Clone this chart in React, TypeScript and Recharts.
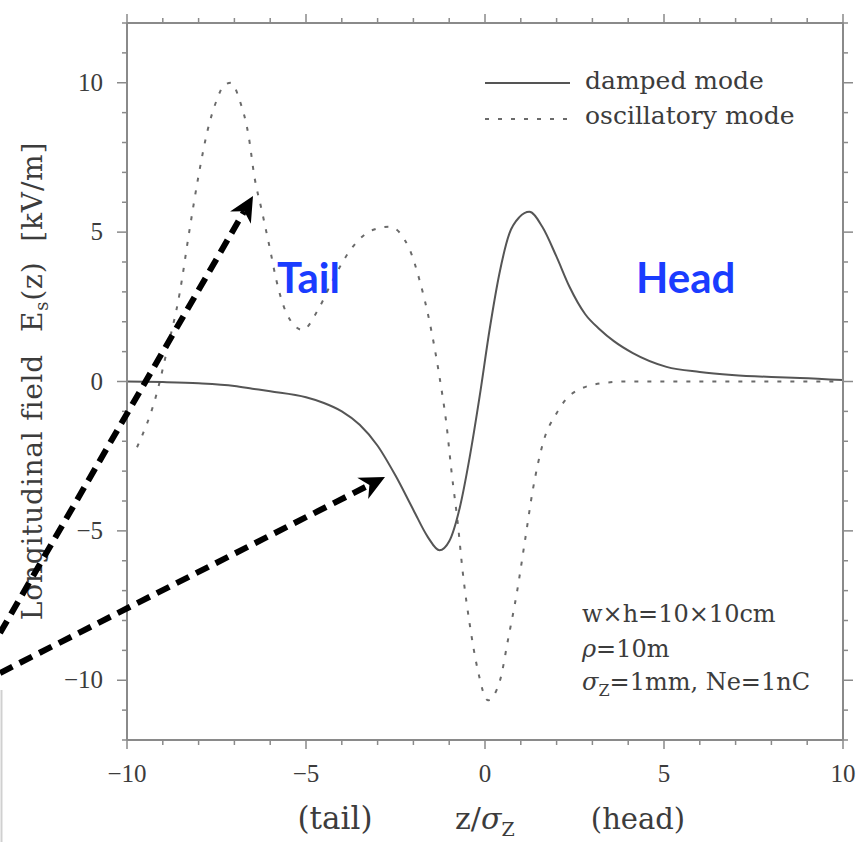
import React from 'react';
import { LineChart, Line, XAxis, YAxis } from 'recharts';

// damped mode (solid)
const dampedZ = [-10, -9, -8, -7, -6.5, -6, -5, -4.5, -4, -3.5, -3, -2.5, -2, -1.6, -1.27, -1.0, -0.7, -0.43, -0.15, 0.13, 0.4, 0.68, 0.96, 1.24, 1.6, 2.0, 2.36, 2.8, 3.2, 3.6, 4.13, 5.07, 6, 6.9, 8, 8.8, 10];
const dampedE = [0, -0.02, -0.06, -0.15, -0.24, -0.33, -0.53, -0.72, -1.0, -1.45, -2.15, -3.15, -4.3, -5.2, -5.65, -5.35, -4.2, -2.55, -0.5, 1.75, 3.6, 4.95, 5.5, 5.68, 5.18, 4.17, 3.17, 2.25, 1.75, 1.35, 0.95, 0.49, 0.32, 0.22, 0.15, 0.12, 0.05];

// oscillatory mode (dashed)
const oscZ = [-9.72, -9.17, -8.9, -8.53, -8.25, -8.0, -7.75, -7.5, -7.3, -7.1, -6.85, -6.6, -6.44, -6.24, -6.0, -5.83, -5.55, -5.1, -4.62, -4.25, -3.7, -3.14, -2.67, -2.1, -1.83, -1.54, -1.27, -1.08, -0.93, -0.76, -0.62, -0.43, -0.2, 0.08, 0.42, 0.64, 0.9, 1.12, 1.34, 1.62, 2.0, 2.45, 3.3, 4, 6, 8, 10];
const oscE = [-2.2, -0.4, 0.95, 2.95, 5.1, 6.9, 8.4, 9.4, 9.9, 10.0, 9.4, 8.2, 6.85, 5.75, 4.4, 3.4, 2.3, 1.73, 2.5, 3.4, 4.5, 5.07, 5.18, 4.4, 3.4, 1.95, 0.15, -1.4, -3.07, -4.75, -6.4, -8.1, -9.67, -10.67, -10.0, -8.66, -7.0, -5.3, -3.6, -2.06, -1.06, -0.39, -0.05, 0, 0, 0, 0];

const xTicks = [-10, -9, -8, -7, -6, -5, -4, -3, -2, -1, 0, 1, 2, 3, 4, 5, 6, 7, 8, 9, 10];
const yTicks = [-12, -11, -10, -9, -8, -7, -6, -5, -4, -3, -2, -1, 0, 1, 2, 3, 4, 5, 6, 7, 8, 9, 10, 11, 12];

const damped = dampedZ.map((z, i) => ({ z, e: dampedE[i] }));
const oscillatory = oscZ.map((z, i) => ({ z, e: oscE[i] }));

const AXIS = '#8a8a8a';
const INK = '#3c3c3c';
const SERIF = '"DejaVu Serif", serif';
const NUMFONT = '"Liberation Serif", serif';

const fmt = (v: number) => (v < 0 ? '\u2212' + Math.abs(v) : String(v));
const isMajor = (v: number) => v % 5 === 0 && Math.abs(v) <= 10;

const BottomTick = ({ x, y, payload }: any) => (
  <g>
    <line x1={x} x2={x} y1={y} y2={y + (isMajor(payload.value) ? 9 : 5)} stroke={AXIS} strokeWidth={1.5} />
    {isMajor(payload.value) && (
      <text x={x} y={y + 42} textAnchor="middle" fontFamily={NUMFONT} fontSize={25} fill={INK}>{fmt(payload.value)}</text>
    )}
  </g>
);

const TopTick = ({ x, y, payload }: any) => (
  <line x1={x} x2={x} y1={y} y2={y - (isMajor(payload.value) ? 9 : 5)} stroke={AXIS} strokeWidth={1.5} />
);

const LeftTick = ({ x, y, payload }: any) => (
  <g>
    <line x1={x} x2={x - (isMajor(payload.value) ? 10 : 5)} y1={y} y2={y} stroke={AXIS} strokeWidth={1.5} />
    {isMajor(payload.value) && (
      <text x={x - 24} y={y + 8} textAnchor="end" fontFamily={NUMFONT} fontSize={25} fill={INK}>{fmt(payload.value)}</text>
    )}
  </g>
);

const RightTick = ({ x, y, payload }: any) => (
  <line x1={x} x2={x + (isMajor(payload.value) ? 10 : 5)} y1={y} y2={y} stroke={AXIS} strokeWidth={1.5} />
);

const arrows = [
  { x1: 0, y1: 633, x2: 253, y2: 196 },
  { x1: 0, y1: 673, x2: 385, y2: 477 },
];

const Arrow = ({ x1, y1, x2, y2 }: { x1: number; y1: number; x2: number; y2: number }) => {
  const len = Math.hypot(x2 - x1, y2 - y1);
  const ux = (x2 - x1) / len;
  const uy = (y2 - y1) / len;
  const head = 25;
  const half = 12;
  const bx = x2 - ux * head;
  const by = y2 - uy * head;
  const nx = x2 - ux * head * 0.7;
  const ny = y2 - uy * head * 0.7;
  const pts = [
    [x2, y2],
    [bx - uy * half, by + ux * half],
    [nx, ny],
    [bx + uy * half, by - ux * half],
  ].map(p => p.join(',')).join(' ');
  return (
    <g>
      <line x1={x1} y1={y1} x2={nx} y2={ny} stroke="#000" strokeWidth={6} strokeDasharray="14 8" />
      <polygon points={pts} fill="#000" />
    </g>
  );
};

export default function App() {
  return (
    <div style={{ position: 'absolute', left: 0, top: 0, width: 859, height: 842, background: '#fff' }}>
      <LineChart width={859} height={842} margin={{ top: 13, right: 6, bottom: 62, left: 87 }}>
        <XAxis xAxisId="b" dataKey="z" type="number" domain={[-10, 10]} ticks={xTicks} interval={0} allowDataOverflow
          height={40} tickSize={0} tickMargin={0} tickLine={false} tick={<BottomTick />} axisLine={{ stroke: AXIS, strokeWidth: 2 }} />
        <XAxis xAxisId="t" orientation="top" dataKey="z" type="number" domain={[-10, 10]} ticks={xTicks} interval={0} allowDataOverflow
          height={10} tickSize={0} tickMargin={0} tickLine={false} tick={<TopTick />} axisLine={{ stroke: AXIS, strokeWidth: 2 }} />
        <YAxis yAxisId="l" type="number" domain={[-12, 12]} ticks={yTicks} interval={0} allowDataOverflow
          width={40} tickSize={0} tickMargin={0} tickLine={false} tick={<LeftTick />} axisLine={{ stroke: AXIS, strokeWidth: 2 }} />
        <YAxis yAxisId="r" orientation="right" type="number" domain={[-12, 12]} ticks={yTicks} interval={0} allowDataOverflow
          width={10} tickSize={0} tickMargin={0} tickLine={false} tick={<RightTick />} axisLine={{ stroke: AXIS, strokeWidth: 2 }} />
        <Line xAxisId="b" yAxisId="l" data={oscillatory} dataKey="e" type="monotone" stroke="#6a6a6a" strokeWidth={2}
          strokeDasharray="4 9" dot={false} isAnimationActive={false} />
        <Line xAxisId="b" yAxisId="l" data={damped} dataKey="e" type="monotone" stroke="#555" strokeWidth={2}
          dot={false} isAnimationActive={false} />
      </LineChart>
      <svg width={859} height={842} style={{ position: 'absolute', left: 0, top: 0, pointerEvents: 'none' }}>
        {/* legend */}
        <line x1={485} x2={570} y1={83} y2={83} stroke="#555" strokeWidth={2} />
        <text x={585} y={89} fontFamily={SERIF} fontSize={25} fill={INK}>damped mode</text>
        <line x1={485} x2={570} y1={119} y2={119} stroke="#6a6a6a" strokeWidth={2} strokeDasharray="4 9" />
        <text x={585} y={124} fontFamily={SERIF} fontSize={25} fill={INK}>oscillatory mode</text>

        {/* parameters */}
        <text x={582} y={622} fontFamily={SERIF} fontSize={24} fill={INK}>w×h=10×10cm</text>
        <text x={582} y={657} fontFamily={SERIF} fontSize={24} fill={INK}>
          <tspan fontStyle="italic">ρ</tspan>=10m
        </text>
        <text x={582} y={690} fontFamily={SERIF} fontSize={24} fill={INK}>
          <tspan fontStyle="italic">σ</tspan><tspan fontSize={16} dy={6}>Z</tspan><tspan dy={-6}>=1mm,  Ne=1nC</tspan>
        </text>

        {/* axis titles */}
        <text x={42} y={381} textAnchor="middle" fontFamily={SERIF} fontSize={28} letterSpacing={0.8} fill={INK} transform="rotate(-90, 42, 381)">
          Longitudinal field<tspan dx={22}>E</tspan><tspan fontSize={18} dy={6}>s</tspan><tspan dy={-6}>(z)</tspan><tspan dx={20}>[kV/m]</tspan>
        </text>
        <text x={335} y={829} textAnchor="middle" fontFamily={SERIF} fontSize={31} fill={INK}>(tail)</text>
        <text x={455} y={829} fontFamily={SERIF} fontSize={30} fill={INK}>
          z/<tspan fontStyle="italic">σ</tspan><tspan fontSize={19} dy={7}>Z</tspan>
        </text>
        <text x={638} y={829} textAnchor="middle" fontFamily={SERIF} fontSize={29} fill={INK}>(head)</text>

        {/* overlay annotations */}
        <text x={277} y={293} fontFamily="Lato, sans-serif" fontWeight={700} fontSize={42} fill="#1a3cff">Tail</text>
        <text x={636} y={293} fontFamily="Lato, sans-serif" fontWeight={700} fontSize={42} fill="#1a3cff">Head</text>
        <line x1={1.5} x2={1.5} y1={690} y2={842} stroke="#d0d0d0" strokeWidth={2} />
        {arrows.map((a, i) => <Arrow key={i} {...a} />)}
      </svg>
    </div>
  );
}
